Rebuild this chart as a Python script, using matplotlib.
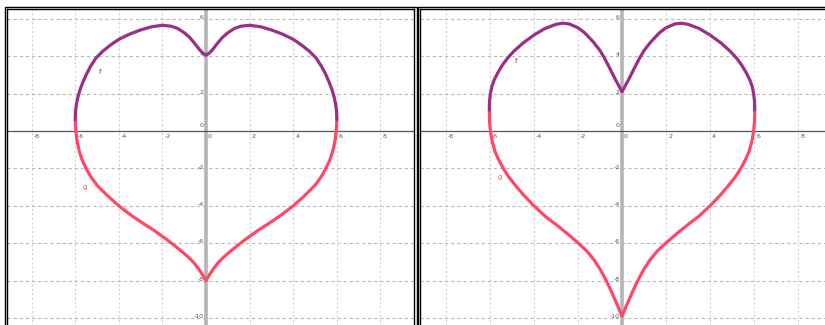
import matplotlib
matplotlib.use("Agg")
import matplotlib.pyplot as plt
from matplotlib.patches import Rectangle

# ---------------- data ----------------
xticks = [-8, -6, -4, -2, 0, 2, 4, 6, 8]
yticks = [6, 4, 2, 0, -2, -4, -6, -8, -10]
xtick_labels = ["-8", "-6", "-4", "-2", "0", "2", "4", "6", "8"]
ytick_labels = ["6", "4", "2", "0", "-2", "-4", "-6", "-8", "-10"]

# left panel: upper curve f
left_f_x = [-6.0, -5.99, -5.95, -5.88, -5.78, -5.65, -5.5, -5.3, -5.05, -4.75, -4.4,
            -4.0, -3.5, -3.0, -2.5, -2.0, -1.6, -1.3, -1.0, -0.75, -0.5, -0.3, -0.15,
            -0.05, 0.0, 0.05, 0.15, 0.3, 0.5, 0.75, 1.0, 1.3, 1.6, 2.0, 2.5, 3.0, 3.5,
            4.0, 4.4, 4.75, 5.05, 5.3, 5.5, 5.65, 5.78, 5.88, 5.95, 5.99, 6.0]
left_f_y = [0.6, 1.0, 1.4, 1.8, 2.2, 2.6, 3.0, 3.45, 3.9, 4.25, 4.58,
            4.9, 5.18, 5.4, 5.57, 5.65, 5.6, 5.48, 5.25, 5.0, 4.65, 4.35, 4.17,
            4.08, 4.05, 4.08, 4.17, 4.35, 4.65, 5.0, 5.25, 5.48, 5.6, 5.65, 5.57, 5.4,
            5.18, 4.9, 4.58, 4.25, 3.9, 3.45, 3.0, 2.6, 2.2, 1.8, 1.4, 1.0, 0.6]

# left panel: lower curve g
left_g_x = [-6.0, -5.99, -5.97, -5.92, -5.81, -5.68, -5.5, -5.28, -5.0, -4.5, -4.0,
            -3.5, -3.0, -2.4, -1.8, -1.2, -0.8, -0.55, -0.35, -0.15, 0.0, 0.15, 0.35,
            0.55, 0.8, 1.2, 1.8, 2.4, 3.0, 3.5, 4.0, 4.5, 5.0, 5.28, 5.5, 5.68, 5.81,
            5.92, 5.97, 5.99, 6.0]
left_g_y = [0.6, 0.3, 0.0, -0.5, -1.1, -1.55, -2.0, -2.45, -2.9, -3.48, -4.0,
            -4.45, -4.85, -5.3, -5.8, -6.35, -6.75, -7.05, -7.35, -7.7, -8.0, -7.7,
            -7.35, -7.05, -6.75, -6.35, -5.8, -5.3, -4.85, -4.45, -4.0, -3.48, -2.9,
            -2.45, -2.0, -1.55, -1.1, -0.5, 0.0, 0.3, 0.6]

# right panel: upper curve f
right_f_x = [-6.03, -6.02, -5.98, -5.92, -5.82, -5.65, -5.45, -5.2, -4.9, -4.5, -4.0,
             -3.5, -3.0, -2.7, -2.4, -2.0, -1.7, -1.3, -1.0, -0.8, -0.6, -0.3, 0.0,
             0.3, 0.6, 0.8, 1.0, 1.3, 1.7, 2.0, 2.4, 2.7, 3.0, 3.5, 4.0, 4.5, 4.9, 5.2,
             5.45, 5.65, 5.82, 5.92, 5.98, 6.02, 6.03]
right_f_y = [1.12, 1.6, 2.0, 2.35, 2.7, 3.1, 3.5, 3.9, 4.28, 4.7, 5.13,
             5.48, 5.7, 5.76, 5.72, 5.52, 5.25, 4.75, 4.3, 3.9, 3.45, 2.75, 2.1,
             2.75, 3.45, 3.9, 4.3, 4.75, 5.25, 5.52, 5.72, 5.76, 5.7, 5.48, 5.13, 4.7,
             4.28, 3.9, 3.5, 3.1, 2.7, 2.35, 2.0, 1.6, 1.12]

# right panel: lower curve g
right_g_x = [-6.03, -6.02, -5.98, -5.9, -5.77, -5.6, -5.4, -5.15, -4.85, -4.45, -4.0,
             -3.5, -3.0, -2.5, -2.0, -1.6, -1.25, -1.0, -0.75, -0.5, -0.25, 0.0, 0.25,
             0.5, 0.75, 1.0, 1.25, 1.6, 2.0, 2.5, 3.0, 3.5, 4.0, 4.45, 4.85, 5.15, 5.4,
             5.6, 5.77, 5.9, 5.98, 6.02, 6.03]
right_g_y = [1.12, 0.5, 0.0, -0.55, -1.1, -1.55, -2.0, -2.45, -2.9, -3.45, -4.0,
             -4.55, -5.0, -5.47, -5.98, -6.42, -6.92, -7.38, -7.92, -8.53, -9.2, -9.9,
             -9.2, -8.53, -7.92, -7.38, -6.92, -6.42, -5.98, -5.47, -5.0, -4.55, -4.0,
             -3.45, -2.9, -2.45, -2.0, -1.55, -1.1, -0.55, 0.0, 0.5, 1.12]

# curve name labels (position in data units)
left_labels = [("f", -4.86, 3.15), ("g", -5.55, -3.0)]
right_labels = [("f", -4.82, 3.74), ("g", -5.55, -2.46)]

F_COLOR = "#9a2f86"
G_COLOR = "#ff4868"

fig = plt.figure(figsize=(8.25, 3.25), dpi=100)
fig.patch.set_facecolor("white")

W, H = 825.0, 325.0


def make_panel(rect_px, xlim, ylim, fx, fy, gx, gy, labels):
    l, b, w, h = rect_px
    ax = fig.add_axes([l / W, b / H, w / W, h / H])
    ax.set_xlim(*xlim)
    ax.set_ylim(*ylim)
    ax.set_xticks([])
    ax.set_yticks([])
    for s in ax.spines.values():
        s.set_color("black")
        s.set_linewidth(1.0)
    # outer frame line (double border look)
    fig.patches.append(Rectangle(((l - 2.5) / W, (b - 2.5) / H), (w + 5) / W, (h + 5) / H,
                                 transform=fig.transFigure, fill=False,
                                 edgecolor="black", linewidth=1.0, zorder=10))
    # grid
    for xv in xticks:
        ax.axvline(xv, color="#d2d2d2", lw=0.8, ls=(0, (2, 2)), zorder=0)
    for yv in yticks:
        ax.axhline(yv, color="#b9b9b9", lw=0.8, ls=(0, (3, 2.5)), zorder=0)
    # axes
    ax.axvline(0, color="#b5b5b5", lw=2.6, zorder=1)
    ax.axhline(0, color="#555555", lw=0.9, zorder=1)
    # tick labels
    for xv, lab in zip(xticks, xtick_labels):
        ax.annotate(lab, (xv, 0), xytext=(1.5, -2.5), textcoords="offset points",
                    ha="left", va="top", fontsize=4.5, color="#555555", zorder=2)
    for yv, lab in zip(yticks, ytick_labels):
        if yv == 0:
            continue
        ax.annotate(lab, (0, yv), xytext=(-1.8, 1.0), textcoords="offset points",
                    ha="right", va="center", fontsize=4.5, color="#555555", zorder=2)
    ax.annotate("0", (0, 0), xytext=(-1.8, 2.0), textcoords="offset points",
                ha="right", va="bottom", fontsize=4.5, color="#555555", zorder=2)
    # curves
    ax.plot(gx, gy, color=G_COLOR, lw=2.3, solid_joinstyle="round",
            solid_capstyle="round", zorder=3)
    ax.plot(fx, fy, color=F_COLOR, lw=2.3, solid_joinstyle="round",
            solid_capstyle="round", zorder=4)
    for name, lx, ly in labels:
        ax.text(lx, ly, name, fontsize=5, color=F_COLOR if name == "f" else G_COLOR,
                ha="center", va="center", zorder=5)
    return ax


# pixel layout: left panel px 7..414 horizontally, top at 9 px
make_panel((7, -3, 407, 319), (-9.13, 9.54), (-10.53, 6.52),
           left_f_x, left_f_y, left_g_x, left_g_y, left_labels)
make_panel((420, -3, 410, 319), (-9.18, 9.45), (-10.53, 6.52),
           right_f_x, right_f_y, right_g_x, right_g_y, right_labels)

fig.savefig("out.png", dpi=100, facecolor="white")
